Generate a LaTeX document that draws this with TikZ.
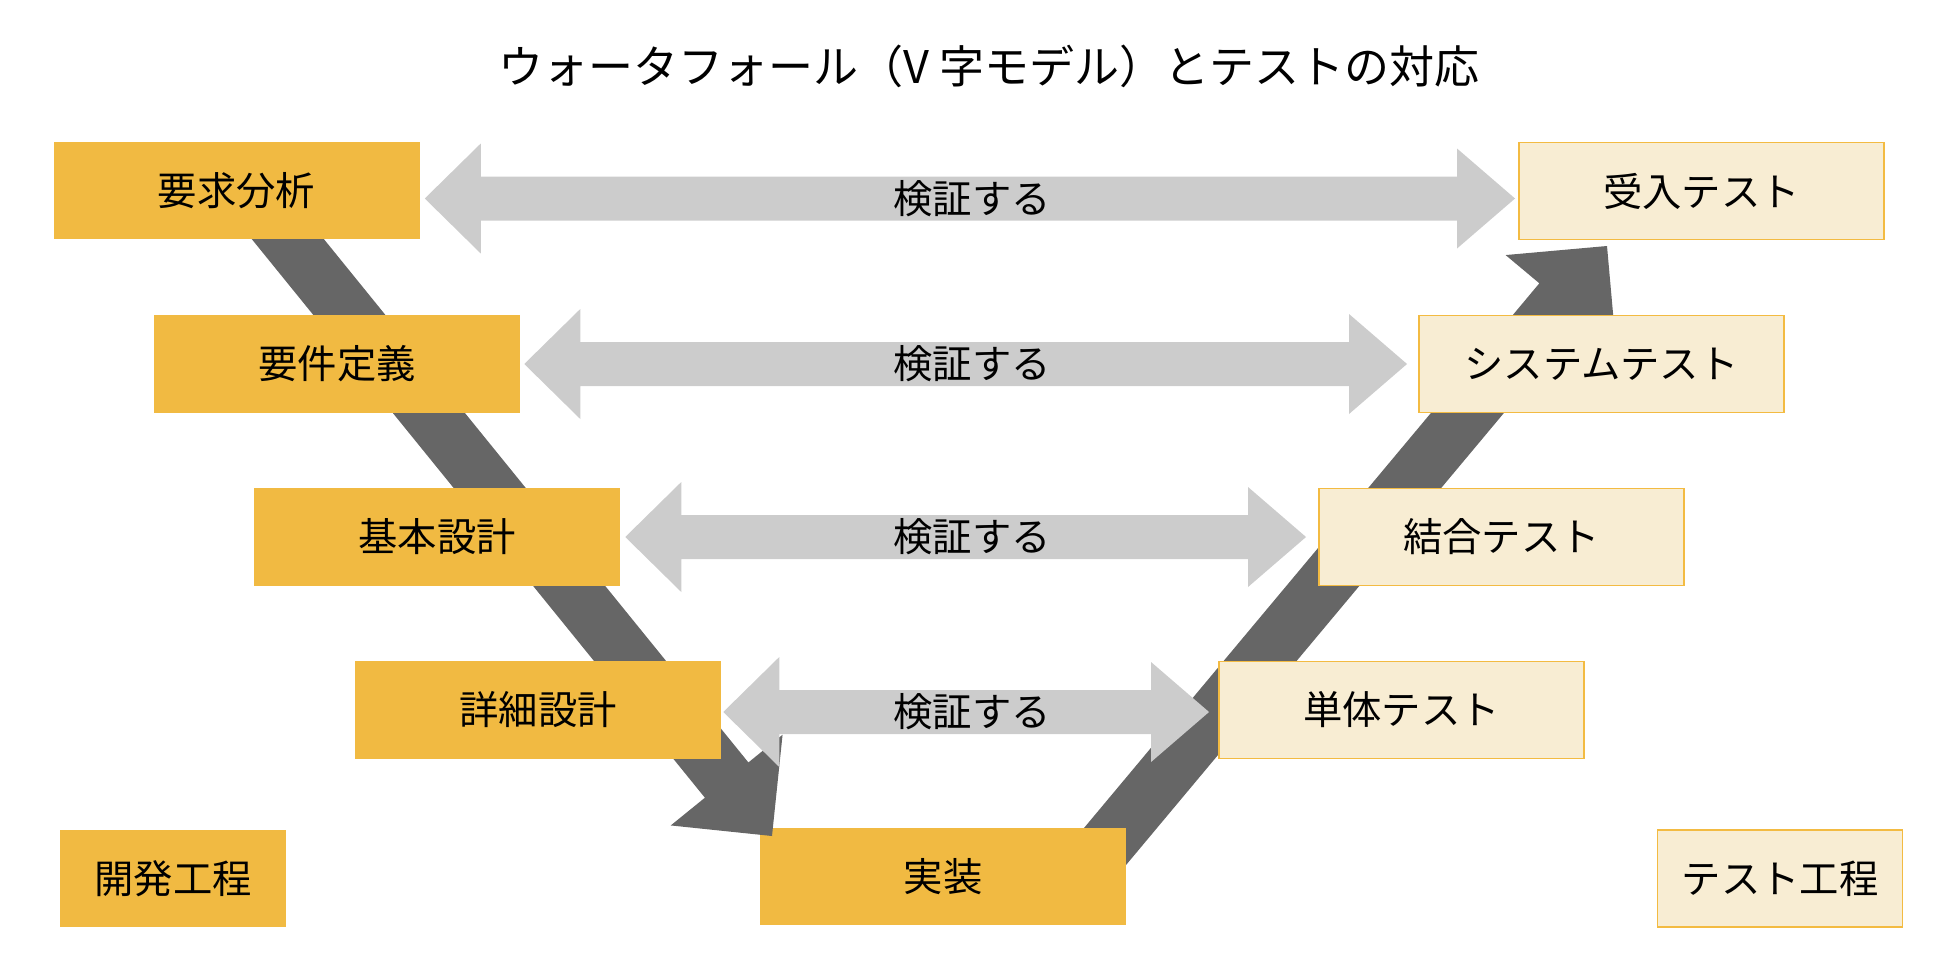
\documentclass[tikz,border=0pt]{standalone}
\usepackage{fontspec}
\setmainfont{Noto Sans CJK JP}
\usetikzlibrary{calc}
\definecolor{devfill}{RGB}{241,186,66}
\definecolor{testfill}{RGB}{248,237,211}
\definecolor{testline}{RGB}{243,187,66}
\definecolor{lightarr}{RGB}{204,204,204}
\definecolor{darkarr}{RGB}{102,102,102}
% fat dark arrow from start coordinate #1 to tip coordinate #2
\newcommand{\VArrowDraw}[2]{%
  \path coordinate (vm) at ($(#2)!54pt!(#1)$);
  \fill[darkarr] ($(#1)!21pt!90:(#2)$) -- ($(vm)!21pt!90:(#2)$) -- ($(vm)!54pt!90:(#2)$) -- (#2)
    -- ($(vm)!54pt!-90:(#2)$) -- ($(vm)!21pt!-90:(#2)$) -- ($(#1)!21pt!-90:(#2)$) -- cycle;
}
% light double arrow between left tip #1 and right tip #2
\newcommand{\BiArrowDraw}[2]{%
  \fill[lightarr] (#1) -- ($(#1)+(56,-55)$) -- ($(#1)+(56,-22)$) -- ($(#2)+(-58,-22)$)
    -- ($(#2)+(-58,-50)$) -- (#2) -- ($(#2)+(-58,50)$) -- ($(#2)+(-58,22)$)
    -- ($(#1)+(56,22)$) -- ($(#1)+(56,55)$) -- cycle;
}
\begin{document}
\begin{tikzpicture}[x=0.75pt,y=-0.75pt,
  lbl/.style={font=\fontsize{29.5}{34}\selectfont},
  devbox/.style={lbl, fill=devfill, draw=none, minimum width=274.5pt, minimum height=73pt, inner sep=0pt},
  testbox/.style={lbl, fill=testfill, draw=testline, line width=1.2pt, minimum width=274pt, minimum height=72.5pt, inner sep=0pt},
  verlabel/.style={lbl, inner sep=0pt},
  titlestyle/.style={font=\fontsize{33.75}{40}\selectfont, inner sep=0pt}
]
\useasboundingbox (0,0) rectangle (1960,968);

% dark "V" arrows
\coordinate (upstart) at (1077,880);
\coordinate (uptip) at (1607,246);
\VArrowDraw{upstart}{uptip}

\node[devbox] (impl) at (943,876.5) {実装};

\coordinate (downstart) at (248,190);
\coordinate (downtip) at (772,836);
\VArrowDraw{downstart}{downtip}

% development boxes
\node[devbox] (req) at (236.5,190.5) {要求分析};
\node[devbox] (def) at (337,364) {要件定義};
\node[devbox] (basic) at (437,537) {基本設計};
\node[devbox] (detail) at (538,710) {詳細設計};

% test boxes
\node[testbox] (accept) at (1701.5,191) {受入テスト};
\node[testbox] (sys) at (1601.5,364) {システムテスト};
\node[testbox] (integ) at (1501.5,537) {結合テスト};
\node[testbox] (unit) at (1401.5,710) {単体テスト};

% verification arrows
\coordinate (l1) at ($(req.east)+(5,8)$);
\coordinate (r1) at ($(accept.west |- l1)+(-3,0)$);
\coordinate (l2) at ($(def.east)+(4,0)$);
\coordinate (r2) at ($(sys.west |- l2)+(-11,0)$);
\coordinate (l3) at ($(basic.east)+(5,0)$);
\coordinate (r3) at ($(integ.west |- l3)+(-12,0)$);
\coordinate (l4) at ($(detail.east)+(2,2)$);
\coordinate (r4) at ($(unit.west |- l4)+(-9,0)$);
\BiArrowDraw{l1}{r1}
\BiArrowDraw{l2}{r2}
\BiArrowDraw{l3}{r3}
\BiArrowDraw{l4}{r4}
\node[verlabel] (v1) at (972,198.5) {検証する};
\node[verlabel] (v2) at (972,364) {検証する};
\node[verlabel] (v3) at (972,537) {検証する};
\node[verlabel] (v4) at (972,712) {検証する};

% legend boxes
\node[devbox, minimum width=169.5pt] (devproc) at (173,878.5) {開発工程};
\node[testbox, minimum width=183.5pt] (testproc) at (1780,878.5) {テスト工程};

% title
\node[titlestyle] (title) at (989,66) {ウォータフォール（V 字モデル）とテストの対応};
\end{tikzpicture}
\end{document}
